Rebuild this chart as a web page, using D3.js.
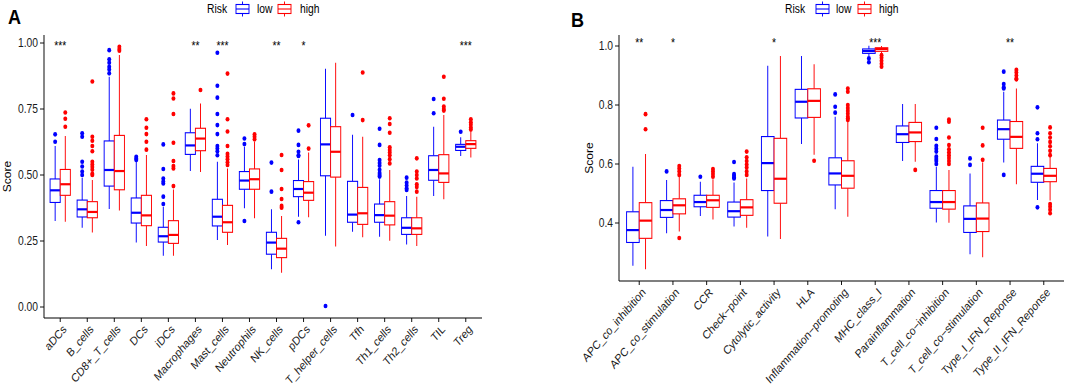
<!DOCTYPE html>
<html lang="en">
<head>
<meta charset="UTF-8">
<title>Risk groups - immune scores</title>
<script src="https://d3js.org/d3.v7.min.js"></script>
<style>
  body { margin: 0; background: #fff; }
  svg { display: block; font-family: "Liberation Sans", Arial, sans-serif; }
</style>
</head>
<body>
<script>
// ---------- panel A : immune cells ----------
const cellsA = ["aDCs", "B_cells", "CD8+_T_cells", "DCs", "iDCs", "Macrophages", "Mast_cells",
  "Neutrophils", "NK_cells", "pDCs", "T_helper_cells", "Tfh", "Th1_cells", "Th2_cells", "TIL", "Treg"];
// [lower whisker, q1, median, q3, upper whisker]
const lowA = [
  [0.326, 0.396, 0.442, 0.485, 0.610], [0.300, 0.341, 0.370, 0.405, 0.490], [0.371, 0.458, 0.519, 0.629, 0.872],
  [0.244, 0.318, 0.357, 0.413, 0.550], [0.194, 0.246, 0.268, 0.302, 0.380], [0.515, 0.578, 0.612, 0.660, 0.751],
  [0.254, 0.307, 0.342, 0.408, 0.550], [0.374, 0.446, 0.479, 0.513, 0.607], [0.143, 0.200, 0.244, 0.283, 0.370],
  [0.342, 0.418, 0.447, 0.479, 0.559], [0.270, 0.497, 0.616, 0.715, 0.902], [0.285, 0.321, 0.350, 0.476, 0.652],
  [0.266, 0.321, 0.348, 0.390, 0.484], [0.237, 0.275, 0.300, 0.338, 0.420], [0.420, 0.480, 0.519, 0.573, 0.683],
  [0.572, 0.593, 0.607, 0.616, 0.643]
];
const highA = [
  [0.323, 0.423, 0.465, 0.521, 0.648], [0.282, 0.338, 0.360, 0.399, 0.481], [0.366, 0.444, 0.515, 0.650, 0.955],
  [0.231, 0.308, 0.347, 0.423, 0.576], [0.194, 0.241, 0.273, 0.327, 0.445], [0.511, 0.592, 0.638, 0.677, 0.771],
  [0.235, 0.283, 0.321, 0.385, 0.525], [0.336, 0.446, 0.484, 0.523, 0.626], [0.130, 0.187, 0.221, 0.260, 0.345],
  [0.340, 0.404, 0.433, 0.475, 0.585], [0.229, 0.492, 0.588, 0.683, 0.925], [0.264, 0.313, 0.355, 0.453, 0.645],
  [0.251, 0.311, 0.346, 0.399, 0.519], [0.231, 0.275, 0.298, 0.338, 0.418], [0.408, 0.472, 0.506, 0.577, 0.727],
  [0.566, 0.601, 0.617, 0.630, 0.664]
];
const outLowA = [
  [0.626, 0.654], [0.50, 0.513, 0.532, 0.55, 0.645, 0.658], [0.885, 0.90, 0.91, 0.925, 0.938, 0.973],
  [0.557, 0.562, 0.569], [0.39, 0.418, 0.468, 0.475, 0.487, 0.523, 0.616], [],
  [0.575, 0.59, 0.60, 0.61, 0.655, 0.689, 0.731, 0.793, 0.838, 0.963], [0.326, 0.617, 0.638], [0.437, 0.547],
  [0.321, 0.572, 0.575, 0.588, 0.614, 0.668], [0.004], [0.727],
  [0.494, 0.50, 0.508, 0.52, 0.535, 0.545, 0.557, 0.614, 0.675], [0.443, 0.45, 0.46, 0.471, 0.49], [0.734, 0.788],
  [0.664]
];
const outHighA = [
  [0.683, 0.713, 0.737], [0.50, 0.505, 0.52, 0.53, 0.54, 0.55, 0.59, 0.61, 0.63, 0.645, 0.854], [0.971, 0.977, 0.986],
  [0.596, 0.626, 0.655, 0.679, 0.711], [0.458, 0.525, 0.534, 0.553, 0.622, 0.731, 0.79, 0.809], [0.822],
  [0.538, 0.548, 0.56, 0.57, 0.58, 0.61, 0.665, 0.711, 0.884], [0.635, 0.645, 0.654],
  [0.376, 0.383, 0.409, 0.447, 0.519, 0.576], [0.60, 0.688], [], [0.708, 0.888],
  [0.544, 0.56, 0.575, 0.585, 0.595, 0.605, 0.66, 0.693, 0.715], [0.437, 0.455, 0.465, 0.487, 0.50, 0.513, 0.563],
  [0.744, 0.75, 0.759, 0.789, 0.872], [0.672, 0.68, 0.69, 0.70, 0.711]
];
const sigA = ["***", "", "", "", "", "**", "***", "", "**", "*", "", "", "", "", "", "***"];
const ticksA = [0, 0.25, 0.5, 0.75, 1];

// ---------- panel B : immune functions ----------
const funcsB = ["APC_co_inhibition", "APC_co_stimulation", "CCR", "Check\u2212point", "Cytolytic_activity", "HLA",
  "Inflammation\u2212promoting", "MHC_class_I", "Parainflammation", "T_cell_co\u2212inhibition",
  "T_cell_co\u2212stimulation", "Type_I_IFN_Reponse", "Type_II_IFN_Reponse"];
const lowB = [
  [0.255, 0.334, 0.376, 0.438, 0.591], [0.365, 0.419, 0.444, 0.476, 0.546], [0.424, 0.455, 0.471, 0.494, 0.540],
  [0.388, 0.420, 0.440, 0.471, 0.537], [0.354, 0.510, 0.603, 0.693, 0.933], [0.668, 0.756, 0.811, 0.853, 0.966],
  [0.447, 0.529, 0.568, 0.621, 0.760], [0.966, 0.975, 0.983, 0.990, 1.001], [0.610, 0.673, 0.701, 0.729, 0.803],
  [0.402, 0.450, 0.471, 0.510, 0.591], [0.294, 0.368, 0.414, 0.458, 0.568], [0.605, 0.684, 0.718, 0.749, 0.845],
  [0.478, 0.538, 0.567, 0.592, 0.670]
];
const highB = [
  [0.243, 0.348, 0.408, 0.469, 0.634], [0.371, 0.431, 0.460, 0.482, 0.557], [0.412, 0.453, 0.477, 0.494, 0.548],
  [0.384, 0.426, 0.453, 0.479, 0.551], [0.346, 0.467, 0.550, 0.687, 0.966], [0.631, 0.758, 0.814, 0.855, 0.938],
  [0.421, 0.518, 0.560, 0.611, 0.743], [0.973, 0.982, 0.990, 0.994, 1.000], [0.608, 0.676, 0.707, 0.741, 0.803],
  [0.401, 0.447, 0.471, 0.510, 0.580], [0.284, 0.371, 0.415, 0.468, 0.605], [0.531, 0.653, 0.692, 0.744, 0.856],
  [0.476, 0.540, 0.560, 0.585, 0.647]
];
const outLowB = [
  [], [0.575], [0.557], [0.551, 0.555, 0.56, 0.566, 0.607], [], [], [0.774, 0.794, 0.836], [0.945, 0.958], [],
  [0.60, 0.61, 0.617, 0.625, 0.642, 0.652, 0.662, 0.685, 0.723], [0.597, 0.619], [0.563, 0.856, 0.86, 0.871, 0.913],
  [0.453, 0.684, 0.704, 0.792]
];
const outHighB = [
  [0.718, 0.769], [0.349, 0.563, 0.575, 0.585, 0.593], [0.557, 0.566, 0.575, 0.583],
  [0.563, 0.575, 0.588, 0.598, 0.61, 0.623, 0.642], [], [0.611],
  [0.749, 0.755, 0.76, 0.77, 0.78, 0.79, 0.80, 0.845, 0.856], [0.93, 0.94, 0.95, 0.96, 0.969], [0.58],
  [0.60, 0.61, 0.62, 0.63, 0.64, 0.65, 0.664, 0.69, 0.743, 0.751], [0.614, 0.663, 0.723],
  [0.887, 0.89, 0.90, 0.91, 0.919], [0.433, 0.445, 0.455, 0.464, 0.63, 0.645, 0.66, 0.675, 0.69, 0.704, 0.724]
];
const sigB = ["**", "*", "", "", "*", "", "", "***", "", "", "", "**", ""];
const ticksB = [0.4, 0.6, 0.8, 1.0];

const riskGroups = ["low", "high"];
const riskColors = ["#0000ff", "#ff0000"];

// the original figure is squeezed horizontally, so draw wide and scale x
const S = 0.86;
const vx = v => v / S;

const svg = d3.select("body").append("svg")
    .attr("width", 1065)
    .attr("height", 390);
const root = svg.append("g").attr("transform", `scale(${S},1)`);

function drawPanel(cfg) {
    const g = root.append("g");
    const x = d3.scalePoint()
        .domain(cfg.cats)
        .range([vx(cfg.left), vx(cfg.right)])
        .padding(0.6);
    const y = cfg.y;
    const bw = x.step() * 0.375;
    const L = vx(cfg.left);

    // axes
    g.append("line").attr("x1", L).attr("x2", L).attr("y1", cfg.top).attr("y2", cfg.bottom)
        .attr("stroke", "#000").attr("stroke-width", 1.1);
    g.append("line").attr("x1", L).attr("x2", vx(cfg.right)).attr("y1", cfg.bottom).attr("y2", cfg.bottom)
        .attr("stroke", "#000").attr("stroke-width", 1.1);

    cfg.ticks.forEach(t => {
        g.append("line").attr("x1", L - vx(4)).attr("x2", L).attr("y1", y(t)).attr("y2", y(t))
            .attr("stroke", "#000");
        g.append("text").attr("x", L - vx(6)).attr("y", y(t)).attr("dy", "0.36em")
            .attr("text-anchor", "end").attr("font-size", 12).attr("fill", "#1a1a1a")
            .text(cfg.fmt(t));
    });

    cfg.cats.forEach(c => {
        g.append("line").attr("x1", x(c)).attr("x2", x(c)).attr("y1", cfg.bottom).attr("y2", cfg.bottom + 4)
            .attr("stroke", "#000");
        g.append("text")
            .attr("transform", `translate(${x(c) + 2},${cfg.bottom + 6}) rotate(-45)`)
            .attr("dy", "0.72em")
            .attr("text-anchor", "end").attr("font-size", 12).attr("fill", "#1a1a1a")
            .text(c);
    });

    // y title
    g.append("text")
        .attr("transform", `translate(${vx(cfg.titleX)},${(cfg.top + cfg.bottom) / 2}) rotate(-90)`)
        .attr("text-anchor", "middle").attr("font-size", 12).attr("fill", "#000")
        .text("Score");

    // boxes
    [[cfg.low, cfg.outLow], [cfg.high, cfg.outHigh]].forEach(([stats, outs], k) => {
        const col = riskColors[k];
        const off = (k === 0 ? -1 : 1) * bw / 2;
        const bx = g.append("g").selectAll("g")
            .data(stats)
            .join("g")
            .attr("transform", (d, i) => `translate(${x(cfg.cats[i]) + off},0)`);
        bx.append("line").attr("y1", d => y(d[0])).attr("y2", d => y(d[1]))
            .attr("stroke", col).attr("stroke-width", 1.1);
        bx.append("line").attr("y1", d => y(d[3])).attr("y2", d => y(d[4]))
            .attr("stroke", col).attr("stroke-width", 1.1);
        bx.append("rect")
            .attr("x", -bw / 2).attr("width", bw)
            .attr("y", d => y(d[3])).attr("height", d => y(d[1]) - y(d[3]))
            .attr("fill", "#fff").attr("stroke", col).attr("stroke-width", 1.1);
        bx.append("line").attr("x1", -bw / 2).attr("x2", bw / 2)
            .attr("y1", d => y(d[2])).attr("y2", d => y(d[2]))
            .attr("stroke", col).attr("stroke-width", 2.2);
        bx.selectAll("circle")
            .data((d, i) => outs[i])
            .join("circle")
            .attr("cy", v => y(v))
            .attr("r", 2.3)
            .attr("fill", col);
    });

    // significance stars
    const top = d3.max([...cfg.low, ...cfg.high, ...cfg.outLow, ...cfg.outHigh].flat());
    g.append("g").selectAll("text")
        .data(cfg.sig)
        .join("text")
        .attr("x", (d, i) => x(cfg.cats[i]))
        .attr("y", y(top) + cfg.sigDy)
        .attr("text-anchor", "middle").attr("font-size", 12).attr("fill", "#000")
        .text(d => d);

    // panel letter
    g.append("text").attr("x", vx(cfg.letterX)).attr("y", cfg.letterY)
        .attr("font-size", 21).attr("font-weight", "bold").attr("fill", "#000")
        .text(cfg.letter);

    // legend
    const lg = g.append("g");
    lg.append("text").attr("x", vx(cfg.legend[0])).attr("y", 13.3)
        .attr("font-size", 12).attr("fill", "#000").text("Risk");
    riskGroups.forEach((r, k) => {
        const kx = vx(cfg.legend[1 + k * 2]);
        const kw = vx(13);
        const col = riskColors[k];
        lg.append("line").attr("x1", kx + kw / 2).attr("x2", kx + kw / 2).attr("y1", 1.5).attr("y2", 16.5)
            .attr("stroke", col).attr("stroke-width", 1.1);
        lg.append("rect").attr("x", kx).attr("y", 4.5).attr("width", kw).attr("height", 9)
            .attr("fill", "#fff").attr("stroke", col).attr("stroke-width", 1.1);
        lg.append("line").attr("x1", kx).attr("x2", kx + kw).attr("y1", 9).attr("y2", 9)
            .attr("stroke", col).attr("stroke-width", 1.1);
        lg.append("text").attr("x", vx(cfg.legend[2 + k * 2])).attr("y", 13.3)
            .attr("font-size", 12).attr("fill", "#000").text(r);
    });
}

drawPanel({
    cats: cellsA, low: lowA, high: highA, outLow: outLowA, outHigh: outHighA, sig: sigA,
    left: 44, right: 482, top: 35, bottom: 318,
    y: d3.scaleLinear().domain([0, 1]).range([307, 43]),
    ticks: ticksA, fmt: d3.format(".2f"),
    titleX: 10.5, sigDy: 3, letter: "A", letterX: 8, letterY: 24,
    legend: [207, 236, 257, 278, 300]
});

drawPanel({
    cats: funcsB, low: lowB, high: highB, outLow: outLowB, outHigh: outHighB, sig: sigB,
    left: 619, right: 1064, top: 35, bottom: 281,
    y: d3.scaleLinear().domain([0.4, 1]).range([223, 46]),
    ticks: ticksB, fmt: d3.format(".1f"),
    titleX: 593, sigDy: 1, letter: "B", letterX: 571, letterY: 27,
    legend: [785, 816, 836, 858, 879]
});
</script>
</body>
</html>
